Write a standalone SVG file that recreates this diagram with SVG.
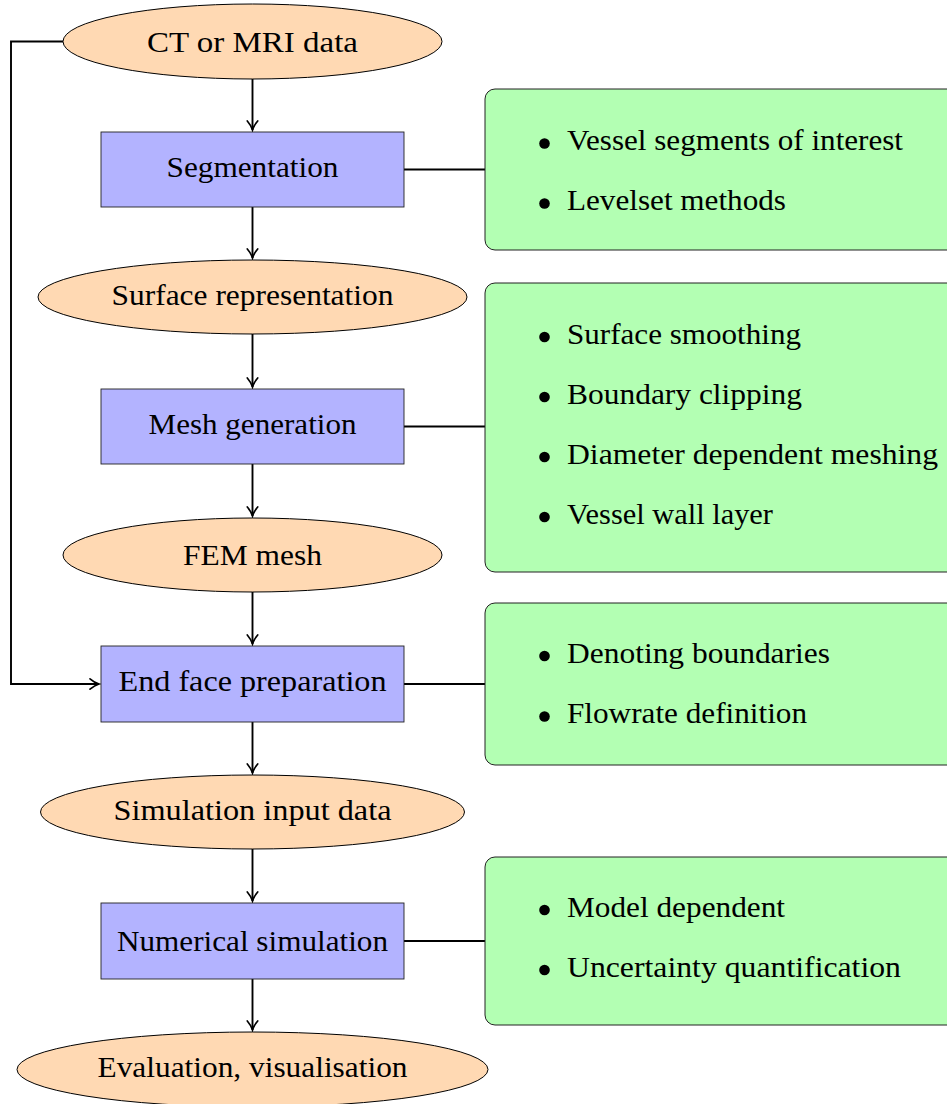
<svg xmlns="http://www.w3.org/2000/svg" width="947" height="1104" viewBox="0 0 947 1104">
<style>
.ell{fill:#ffd9b3;stroke:#000;stroke-width:1}
.box{fill:#b3b3ff;stroke:#222;stroke-width:0.9}
.grn{fill:#b3ffb3;stroke:#222;stroke-width:1}
.t{font-family:"Liberation Serif","Times New Roman",serif;font-size:29px;fill:#000}
.c{text-anchor:middle}
.con{fill:none;stroke:#000;stroke-width:1.9}
.bul{fill:#000}
</style>
<defs>
<marker id="arr" markerUnits="userSpaceOnUse" markerWidth="14" markerHeight="14" viewBox="-11 -7 14 14" refX="0" refY="0" orient="auto">
<path d="M -9 -5.2 C -5.5 -2.2, -2 -0.6, 0 0 C -2 0.6, -5.5 2.2, -9 5.2" fill="none" stroke="#000" stroke-width="1.7" stroke-linecap="round"/>
</marker>
</defs>
<g id="connectors">
<path class="con" d="M252.5 79 V130" marker-end="url(#arr)"/>
<path class="con" d="M252.5 207 V258" marker-end="url(#arr)"/>
<path class="con" d="M252.5 334 V387" marker-end="url(#arr)"/>
<path class="con" d="M252.5 464 V516" marker-end="url(#arr)"/>
<path class="con" d="M252.5 592 V644" marker-end="url(#arr)"/>
<path class="con" d="M252.5 722 V773" marker-end="url(#arr)"/>
<path class="con" d="M252.5 849 V901" marker-end="url(#arr)"/>
<path class="con" d="M252.5 979 V1030" marker-end="url(#arr)"/>
<path class="con" d="M63 41.5 H11 V684 H99" marker-end="url(#arr)"/>
<path class="con" d="M404 169.5 H485"/>
<path class="con" d="M404 426.5 H485"/>
<path class="con" d="M404 684 H485"/>
<path class="con" d="M404 941 H485"/>
</g>
<g id="ct">
<ellipse class="ell" cx="252.5" cy="41.5" rx="189.5" ry="37.5"/>
<text class="t c" x="252.5" y="52" textLength="211" lengthAdjust="spacingAndGlyphs">CT or MRI data</text>
</g>
<g id="segmentation">
<rect class="box" x="101" y="132" width="303" height="75"/>
<text class="t c" x="252.5" y="177" textLength="172" lengthAdjust="spacingAndGlyphs">Segmentation</text>
</g>
<g id="surface">
<ellipse class="ell" cx="252.5" cy="297" rx="214.5" ry="37"/>
<text class="t c" x="252.5" y="305" textLength="282" lengthAdjust="spacingAndGlyphs">Surface representation</text>
</g>
<g id="mesh">
<rect class="box" x="101" y="389" width="303" height="75"/>
<text class="t c" x="252.5" y="434" textLength="208" lengthAdjust="spacingAndGlyphs">Mesh generation</text>
</g>
<g id="fem">
<ellipse class="ell" cx="252.5" cy="555" rx="189.5" ry="37"/>
<text class="t c" x="252.5" y="565" textLength="139" lengthAdjust="spacingAndGlyphs">FEM mesh</text>
</g>
<g id="endface">
<rect class="box" x="101" y="646" width="303" height="76"/>
<text class="t c" x="252.5" y="691" textLength="268" lengthAdjust="spacingAndGlyphs">End face preparation</text>
</g>
<g id="siminput">
<ellipse class="ell" cx="252.5" cy="812" rx="212" ry="37"/>
<text class="t c" x="252.5" y="820" textLength="278" lengthAdjust="spacingAndGlyphs">Simulation input data</text>
</g>
<g id="numsim">
<rect class="box" x="101" y="903" width="303" height="76"/>
<text class="t c" x="252.5" y="951" textLength="271" lengthAdjust="spacingAndGlyphs">Numerical simulation</text>
</g>
<g id="evaluation">
<ellipse class="ell" cx="252.5" cy="1069.5" rx="235.5" ry="37.5"/>
<text class="t c" x="252.5" y="1077" textLength="310" lengthAdjust="spacingAndGlyphs">Evaluation, visualisation</text>
</g>
<g id="notes-segmentation">
<rect class="grn" x="485" y="89" width="480" height="161" rx="10" ry="10"/>
<circle class="bul" cx="544.5" cy="143.5" r="5.3"/>
<text class="t" x="567" y="150" textLength="336" lengthAdjust="spacingAndGlyphs">Vessel segments of interest</text>
<circle class="bul" cx="544.5" cy="203.5" r="5.3"/>
<text class="t" x="567" y="210" textLength="219" lengthAdjust="spacingAndGlyphs">Levelset methods</text>
</g>
<g id="notes-mesh">
<rect class="grn" x="485" y="283" width="480" height="289" rx="10" ry="10"/>
<circle class="bul" cx="544.5" cy="337" r="5.3"/>
<text class="t" x="567" y="344" textLength="234" lengthAdjust="spacingAndGlyphs">Surface smoothing</text>
<circle class="bul" cx="544.5" cy="397" r="5.3"/>
<text class="t" x="567" y="404" textLength="235" lengthAdjust="spacingAndGlyphs">Boundary clipping</text>
<circle class="bul" cx="544.5" cy="457" r="5.3"/>
<text class="t" x="567" y="464" textLength="371" lengthAdjust="spacingAndGlyphs">Diameter dependent meshing</text>
<circle class="bul" cx="544.5" cy="517" r="5.3"/>
<text class="t" x="567" y="524" textLength="206" lengthAdjust="spacingAndGlyphs">Vessel wall layer</text>
</g>
<g id="notes-endface">
<rect class="grn" x="485" y="603" width="480" height="162" rx="10" ry="10"/>
<circle class="bul" cx="544.5" cy="656" r="5.3"/>
<text class="t" x="567" y="663" textLength="263" lengthAdjust="spacingAndGlyphs">Denoting boundaries</text>
<circle class="bul" cx="544.5" cy="716.5" r="5.3"/>
<text class="t" x="567" y="723" textLength="240" lengthAdjust="spacingAndGlyphs">Flowrate definition</text>
</g>
<g id="notes-numsim">
<rect class="grn" x="485" y="857" width="480" height="168" rx="10" ry="10"/>
<circle class="bul" cx="544.5" cy="910" r="5.3"/>
<text class="t" x="567" y="917" textLength="218" lengthAdjust="spacingAndGlyphs">Model dependent</text>
<circle class="bul" cx="544.5" cy="970" r="5.3"/>
<text class="t" x="567" y="977" textLength="334" lengthAdjust="spacingAndGlyphs">Uncertainty quantification</text>
</g>
</svg>
